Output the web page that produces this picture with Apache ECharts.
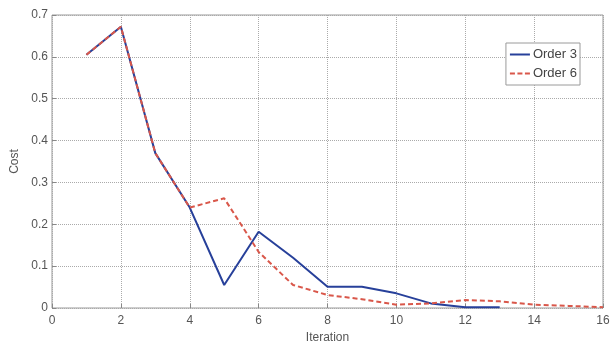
<!DOCTYPE html>
<html><head><meta charset="utf-8">
<script src="https://cdn.jsdelivr.net/npm/echarts@6/dist/echarts.min.js"></script>
<style>html,body{margin:0;padding:0;background:#fff}#c{width:610px;height:344px}</style>
</head><body><div id="c"></div>
<script>
const iter3 = [1,2,3,4,5,6,7,8,9,10,11,12,13];
const order3 = [0.605,0.672,0.37,0.24,0.055,0.182,0.12,0.051,0.051,0.035,0.011,0.002,0.002];
const iter6 = [1,2,3,4,5,6,7,8,9,10,11,12,13,14,15,16];
const order6 = [0.605,0.672,0.37,0.24,0.262,0.134,0.055,0.031,0.021,0.008,0.011,0.019,0.016,0.008,0.005,0.002];
const xTicks = [0,2,4,6,8,10,12,14,16];
const yTicks = [0,0.1,0.2,0.3,0.4,0.5,0.6,0.7];

const chart = echarts.init(document.getElementById('c'), null, {renderer:'canvas'});
const font = 'Liberation Sans, Arial, sans-serif';
chart.setOption({
  animation:false,
  backgroundColor:'#fff',
  grid:{left:52,right:7,top:15,bottom:36,show:true,borderColor:'#9a9a9a',borderWidth:1,backgroundColor:'#fff',
        containLabel:false, outerBoundsMode:'none'},
  legend:{
    orient:'vertical', right:30, top:43,
    data:[
      {name:'Order 3', icon:'path://M0,0h20v2h-20z'},
      {name:'Order 6', icon:'path://M0,0h5v2h-5zM7.5,0h5v2h-5zM15,0h5v2h-5z'}
    ],
    backgroundColor:'#fff', borderColor:'#9a9a9a', borderWidth:1,
    padding:[5,3,5,4], itemGap:6, itemWidth:26, itemHeight:2,
    textStyle:{fontFamily:font,fontSize:13,color:'#444',padding:[0,0,0,-5]}
  },
  xAxis:{
    type:'value', min:xTicks[0], max:xTicks[xTicks.length-1], interval:2,
    name:'Iteration', nameLocation:'middle', nameGap:23,
    nameTextStyle:{fontFamily:font,fontSize:12,color:'#555'},
    axisLine:{show:false},
    axisTick:{show:true,inside:true,length:4,lineStyle:{color:'#888'}},
    axisLabel:{fontFamily:font,fontSize:12,color:'#555',margin:7},
    splitLine:{show:true,lineStyle:{color:'#aaa',type:[1,1],width:1}}
  },
  yAxis:{
    type:'value', min:yTicks[0], max:yTicks[yTicks.length-1], interval:0.1,
    name:'Cost', nameLocation:'middle', nameGap:31, nameRotate:90,
    nameTextStyle:{fontFamily:font,fontSize:12,color:'#555'},
    axisLine:{show:false},
    axisTick:{show:true,inside:true,length:4,lineStyle:{color:'#888'}},
    axisLabel:{fontFamily:font,fontSize:12,color:'#555',margin:4,formatter:v=>String(+v.toFixed(1))},
    splitLine:{show:true,lineStyle:{color:'#aaa',type:[1,1],width:1}}
  },
  series:[
    {name:'Order 3',type:'line',data:iter3.map((x,i)=>[x,order3[i]]),showSymbol:false,symbol:'none',
     lineStyle:{color:'#27409a',width:2},itemStyle:{color:'#27409a'},z:2},
    {name:'Order 6',type:'line',data:iter6.map((x,i)=>[x,order6[i]]),showSymbol:false,symbol:'none',
     lineStyle:{color:'#d9574a',width:2,type:[5,3]},itemStyle:{color:'#d9574a'},z:3}
  ]
});
</script></body></html>
